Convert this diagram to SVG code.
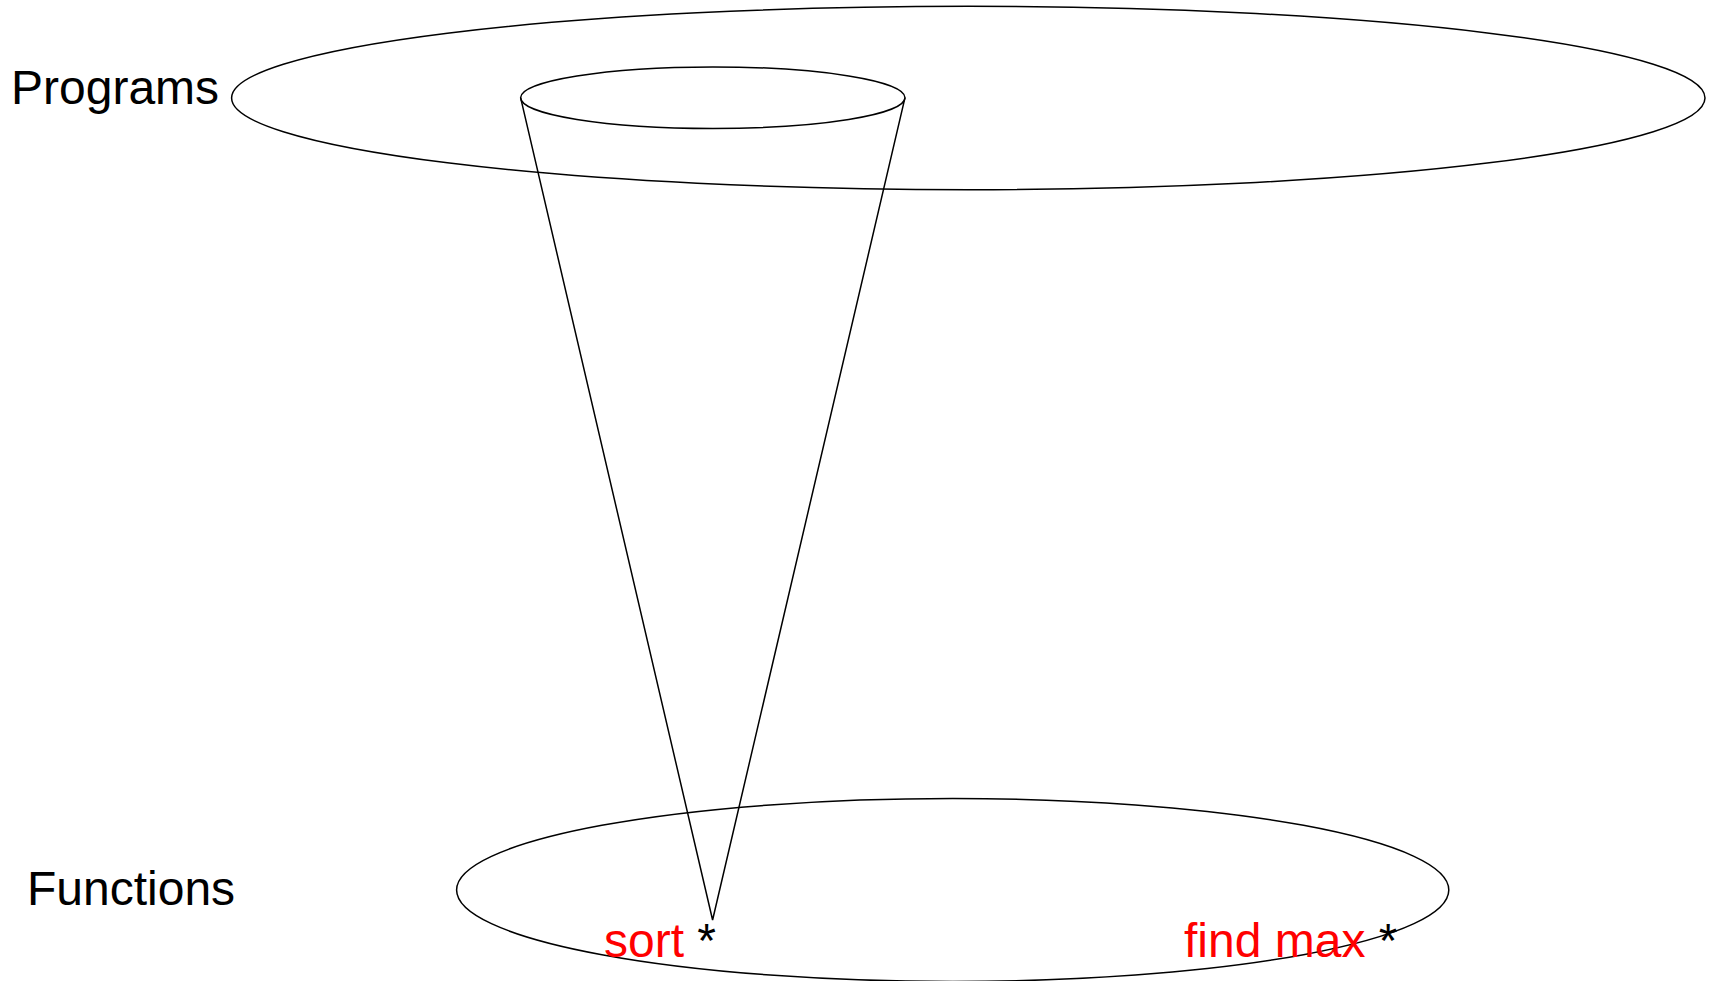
<svg xmlns="http://www.w3.org/2000/svg" width="1711" height="981" viewBox="0 0 1711 981">
<style>
.shape{fill:none;stroke:#000;stroke-width:1.5}
.lbl{font-family:"Liberation Sans",Arial,sans-serif;font-size:48px;fill:#000}
.red{fill:#ff0000}
</style>
<rect width="1711" height="981" fill="#fff"/>
<g id="programs">
<ellipse class="shape" cx="968.3" cy="98" rx="736.7" ry="91.7"/>
<text class="lbl" x="11" y="103.5">Programs</text>
</g>
<g id="functions">
<ellipse class="shape" cx="952.7" cy="890" rx="496.1" ry="91.5"/>
<text class="lbl" x="27" y="905">Functions</text>
</g>
<g id="sort">
<text class="lbl" x="604" y="956.7"><tspan class="red">sort</tspan> *</text>
</g>
<g id="findmax">
<text class="lbl" x="1184" y="956.7"><tspan class="red">find max</tspan> *</text>
</g>
<g id="connectors">
<ellipse class="shape" cx="712.8" cy="97.7" rx="192.2" ry="30.8"/>
<path class="shape" d="M520.6 97.7 L712.6 920 L905 97.7"/>
</g>
</svg>
